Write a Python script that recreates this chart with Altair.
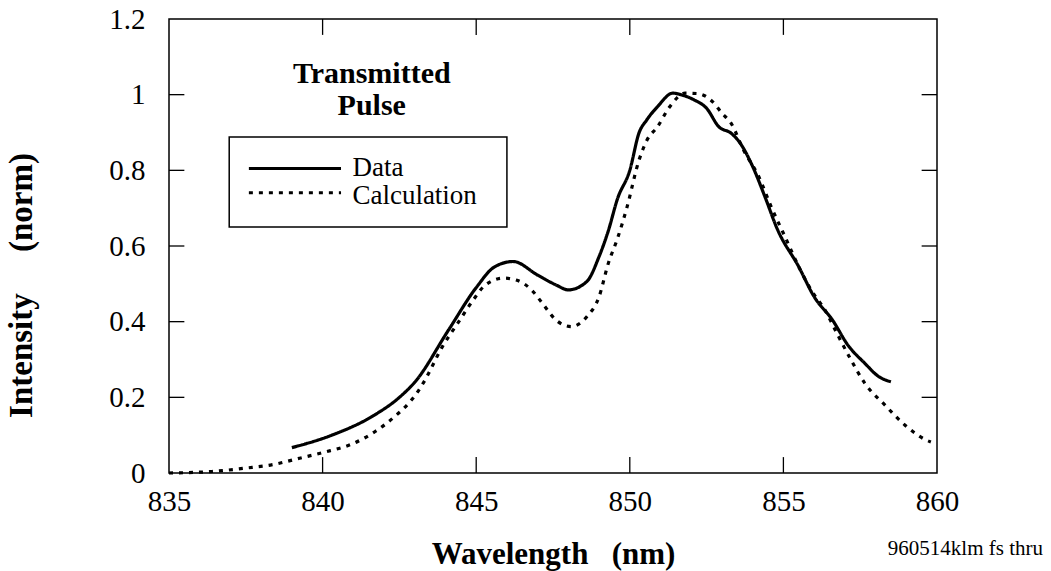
import altair as alt
import pandas as pd

# ---- data ----
data_wl = [839.0, 840.3, 841.6, 842.5, 843.0, 844.1, 845.0, 845.6, 846.2, 847.0, 847.6, 848.0,
           848.6, 849.0, 849.3, 849.6, 850.0, 850.3, 850.55, 850.9, 851.4, 851.7, 852.1, 852.5,
           852.9, 853.3, 853.6, 854.0, 854.4, 854.8, 855.5, 856.0, 856.6, 857.1, 857.65, 858.1, 858.5]
data_val = [0.067, 0.10, 0.149, 0.20, 0.24, 0.378, 0.49, 0.545, 0.559, 0.523, 0.497, 0.484,
            0.506, 0.572, 0.64, 0.725, 0.80, 0.899, 0.933, 0.968, 1.004, 0.999, 0.986, 0.964,
            0.915, 0.898, 0.871, 0.81, 0.73, 0.645, 0.545, 0.466, 0.404, 0.338, 0.29, 0.255, 0.241]

calc_wl = [835.0, 836.4, 837.5, 838.3, 839.25, 840.0, 841.0, 841.7, 842.4, 842.8, 843.1, 843.3,
           843.9, 844.4, 844.9, 845.3, 845.9, 846.3, 846.8, 847.15, 847.6, 848.1, 848.6, 849.0,
           849.3, 849.6, 849.9, 850.3, 850.56, 850.9, 851.3, 851.8, 852.2, 852.7, 853.0, 853.3,
           853.7, 854.2, 854.6, 855.05, 855.5, 855.9, 856.35, 856.8, 857.2, 857.65, 858.3, 858.95,
           859.65, 859.8]
calc_val = [0.0, 0.004, 0.013, 0.021, 0.039, 0.054, 0.078, 0.109, 0.153, 0.184, 0.215, 0.241,
            0.334, 0.396, 0.457, 0.497, 0.515, 0.51, 0.484, 0.449, 0.404, 0.387, 0.413, 0.466,
            0.554, 0.62, 0.70, 0.827, 0.88, 0.915, 0.968, 1.004, 1.003, 0.981, 0.951, 0.924,
            0.854, 0.783, 0.704, 0.625, 0.545, 0.484, 0.431, 0.36, 0.299, 0.237, 0.18, 0.127,
            0.087, 0.082]

series_names = ["Data", "Calculation"]
x_tick_values = [835, 840, 845, 850, 855, 860]
y_tick_values = [0, 0.2, 0.4, 0.6, 0.8, 1.0, 1.2]
x_inner_ticks = [840, 845, 850, 855]
y_inner_ticks = [0.2, 0.4, 0.6, 0.8, 1.0]

annotation_title = ["Transmitted", "Pulse"]
footnote = "960514klm fs thru"
x_title = "Wavelength\u00a0\u00a0 (nm)"
y_title = "Intensity\u00a0\u00a0\u00a0\u00a0 (norm)"

FONT = "Liberation Serif, Times New Roman, Times, serif"
X_DOMAIN = [835, 860]
Y_DOMAIN = [0, 1.2]

df = pd.concat([
    pd.DataFrame({"wl": data_wl, "val": data_val, "series": "Data", "order": range(len(data_wl))}),
    pd.DataFrame({"wl": calc_wl, "val": calc_val, "series": "Calculation", "order": range(len(calc_wl))}),
])

xs = alt.Scale(domain=X_DOMAIN, nice=False, zero=False)
ys = alt.Scale(domain=Y_DOMAIN, nice=False, zero=False)
x_axis = alt.Axis(values=x_tick_values, title=x_title, format="d", labelFlush=False,
                  labelPadding=14, titlePadding=23, titleFontSize=31)
y_axis = alt.Axis(values=y_tick_values, title=y_title, format="~g", labelFlush=False,
                  labelPadding=24, titleX=-131, titleY=266, titleFontSize=33)


def X(field):
    return alt.X(field, scale=xs, axis=x_axis)


def Y(field):
    return alt.Y(field, scale=ys, axis=y_axis)


lines = alt.Chart(df).mark_line(strokeWidth=3.2, color="black", interpolate="monotone", strokeCap="butt").encode(
    x=X("wl:Q"),
    y=Y("val:Q"),
    strokeDash=alt.StrokeDash("series:N", scale=alt.Scale(domain=series_names, range=[[1, 0], [4, 6]]),
                              legend=None),
    order="order:Q",
)

# inner tick marks on all four sides
tick_len_x = 0.5   # nm
tick_len_y = 0.042  # intensity units
tick_rows = []
for t in x_inner_ticks:
    tick_rows.append({"x0": t, "x1": t, "y0": Y_DOMAIN[0], "y1": Y_DOMAIN[0] + tick_len_y})
    tick_rows.append({"x0": t, "x1": t, "y0": Y_DOMAIN[1], "y1": Y_DOMAIN[1] - tick_len_y})
for t in y_inner_ticks:
    tick_rows.append({"x0": X_DOMAIN[0], "x1": X_DOMAIN[0] + tick_len_x, "y0": t, "y1": t})
    tick_rows.append({"x0": X_DOMAIN[1], "x1": X_DOMAIN[1] - tick_len_x, "y0": t, "y1": t})
ticks = alt.Chart(pd.DataFrame(tick_rows)).mark_rule(color="black", strokeWidth=1.3).encode(
    x=X("x0:Q"), x2="x1:Q", y=Y("y0:Q"), y2="y1:Q",
)

# annotation title
ann = alt.Chart(pd.DataFrame({"x": [841.6, 841.6], "y": [1.031, 0.946], "t": annotation_title})).mark_text(
    font=FONT, fontSize=30, fontWeight="bold", align="center", baseline="alphabetic", color="black"
).encode(x=X("x:Q"), y=Y("y:Q"), text="t:N")

# legend box
box = alt.Chart(pd.DataFrame({"x0": [836.96], "x1": [846.0], "y0": [0.888], "y1": [0.650]})).mark_rect(
    fill="white", stroke="black", strokeWidth=1.5
).encode(x=X("x0:Q"), x2="x1:Q", y=Y("y0:Q"), y2="y1:Q")

leg_lines = alt.Chart(pd.DataFrame({
    "x0": [837.6, 837.6], "x1": [840.6, 840.6], "y": [0.805, 0.741], "series": series_names
})).mark_rule(color="black", strokeWidth=3, strokeCap="butt").encode(
    x=X("x0:Q"), x2="x1:Q", y=Y("y:Q"),
    strokeDash=alt.StrokeDash("series:N", scale=alt.Scale(domain=series_names, range=[[1, 0], [5, 5]]),
                              legend=None),
)

leg_text = alt.Chart(pd.DataFrame({"x": [840.97, 840.97], "y": [0.786, 0.712], "t": series_names})).mark_text(
    font=FONT, fontSize=27, align="left", baseline="alphabetic", color="black"
).encode(x=X("x:Q"), y=Y("y:Q"), text="t:N")

foot = alt.Chart(pd.DataFrame({"x": [858.4], "y": [-0.217], "t": [footnote]})).mark_text(
    font=FONT, fontSize=21, align="left", baseline="alphabetic", color="black"
).encode(x=X("x:Q"), y=Y("y:Q"), text="t:N")

chart = alt.layer(lines, ticks, box, leg_lines, leg_text, ann, foot).properties(
    width=768, height=454,
    autosize=alt.AutoSizeParams(type="none"),
    padding={"left": 169, "top": 19, "right": 114, "bottom": 98},
    background="white",
).configure_view(
    stroke="black", strokeWidth=1.5
).configure_axis(
    labelFont=FONT, labelFontSize=29, labelColor="black",
    titleFont=FONT, titleFontWeight="bold", titleColor="black",
    domain=False, ticks=False, tickSize=0, grid=False,
)

chart.save("out.html", embed_options={"renderer": "svg", "actions": False})
